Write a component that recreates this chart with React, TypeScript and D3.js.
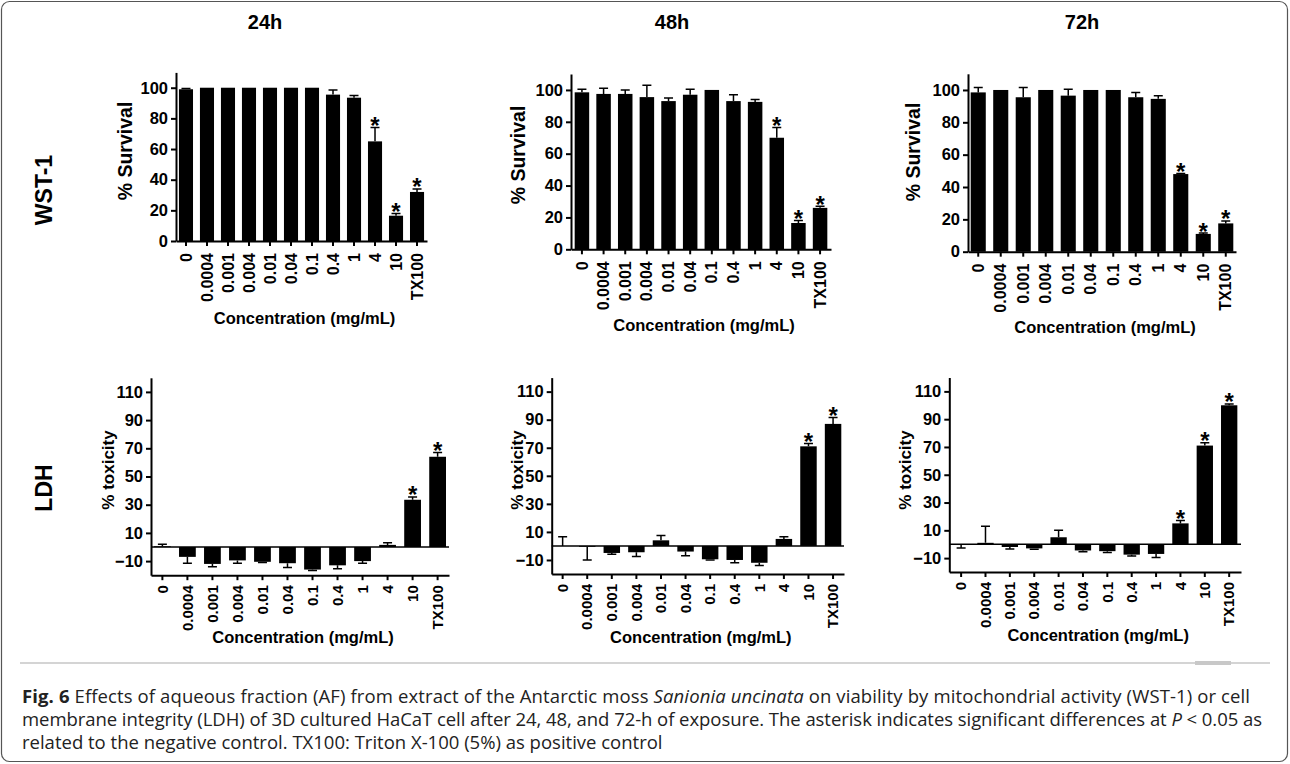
import React, { useEffect, useRef } from "react";
import * as d3 from "d3";

// WST-1 / LDH bar panels for 24h, 48h, 72h, drawn with D3 into one svg.
const concentrations = ["0", "0.0004", "0.001", "0.004", "0.01", "0.04", "0.1", "0.4", "1", "4", "10", "TX100"];
const timePoints = ["24h", "48h", "72h"];

const wst24 = [99, 100, 100, 100, 100, 100, 100, 95.5, 93.5, 65, 16.5, 32];
const wst24Err = [0.5, 0, 0, 0, 0, 0, 0, 3, 1.5, 9, 1.5, 2];
const wst48 = [98.5, 97.5, 97.5, 95.5, 93, 97, 100, 93, 92.5, 70, 16.5, 26];
const wst48Err = [2, 3.5, 2.5, 7.5, 2, 3.5, 0, 4, 1.5, 6.5, 1.5, 1];
const wst72 = [98.5, 100, 95.5, 100, 96.5, 100, 100, 95.5, 94.5, 48, 11, 17.5];
const wst72Err = [3, 0, 6, 0, 4, 0, 0, 3, 2, 0.4, 0.5, 1.5];

const ldh24 = [0.5, -7, -12, -9.5, -10.5, -11.5, -16, -13, -10, 1.5, 33.5, 64];
const ldh24Err = [1.5, 4.5, 2, 2, 0.5, 3, 0.7, 2.5, 1.5, 1.5, 2, 3];
const ldh48 = [0, -0.5, -5, -4.5, 4, -4, -9.5, -10, -12, 5, 71, 87];
const ldh48Err = [6.5, 9.5, 1, 3, 3.5, 3, 0.5, 2, 2, 1.5, 2, 4.5];
const ldh72 = [-0.3, 1, -2, -3, 5, -4.5, -5, -7.5, -7, 15, 71, 100];
const ldh72Err = [2.5, 12, 1.5, 0.7, 5, 1, 1, 1, 2.5, 2, 2, 1];

const wstStars = [["4", "10", "TX100"], ["4", "10", "TX100"], ["4", "10", "TX100"]];
const ldhStars = [["10", "TX100"], ["10", "TX100"], ["4", "10", "TX100"]];

const wstTicks = [0, 20, 40, 60, 80, 100];
const ldhTicks = [-10, 10, 30, 50, 70, 90, 110];

// layout per panel (pixels)
const wstLayout = [
  { x: [176, 427], y: [241, 72.4], outer: 0.14, tx: 125, ty: 151, xt: 324 },
  { x: [571, 831], y: [249.3, 74], outer: 0.17, tx: 518, ty: 155, xt: 331 },
  { x: [968, 1236], y: [251.7, 73.8], outer: 0.12, tx: 913, ty: 152, xt: 333 },
];
const ldhLayout = [
  { x: [151, 449], y: [575.2, 377.8], outer: 0.12, tx: 108, ty: 470, xt: 643 },
  { x: [551.7, 844], y: [574, 377.6], outer: 0.11, tx: 517, ty: 470, xt: 643 },
  { x: [949.3, 1241], y: [572, 377.5], outer: 0.15, tx: 905, ty: 470, xt: 641 },
];

const FONT = "'Liberation Sans', Arial, sans-serif";

function drawPanel(svg, opts) {
  const { values, errs, stars, layout, domain, ticks, yTitle, yTitleSize, tickLabelSize, labelGap, zeroLine } = opts;
  const g = svg.append("g");
  const x = d3
    .scaleBand()
    .domain(concentrations)
    .range(layout.x)
    .paddingInner(0.33)
    .paddingOuter(layout.outer);
  const y = d3.scaleLinear().domain(domain).range(layout.y);

  const rows = concentrations.map((c, i) => ({ c, v: values[i], e: errs[i] }));

  g.selectAll("rect.bar")
    .data(rows.filter((d) => d.v !== 0))
    .join("rect")
    .attr("x", (d) => x(d.c))
    .attr("width", x.bandwidth())
    .attr("y", (d) => y(Math.max(d.v, 0)))
    .attr("height", (d) => Math.max(0.8, Math.abs(y(d.v) - y(0))))
    .attr("fill", "#000");

  // error bars point away from zero, like the original
  const errEnd = (d) => d.v + (d.v < 0 ? -1 : 1) * d.e;
  g.selectAll("path.err")
    .data(rows.filter((d) => d.e > 0))
    .join("path")
    .attr("d", (d) => {
      const cx = x(d.c) + x.bandwidth() / 2;
      const y0 = y(d.v);
      const y1 = y(errEnd(d));
      return `M${cx},${y0}V${y1}M${cx - 4.5},${y1}H${cx + 4.5}`;
    })
    .attr("stroke", "#000")
    .attr("stroke-width", 1.5)
    .attr("fill", "none");

  g.selectAll("text.star")
    .data(rows.filter((d) => stars.includes(d.c)))
    .join("text")
    .attr("x", (d) => x(d.c) + x.bandwidth() / 2)
    .attr("y", (d) => y(errEnd(d)) + 6.5)
    .attr("text-anchor", "middle")
    .attr("font-family", FONT)
    .attr("font-weight", "bold")
    .attr("font-size", 24)
    .text("*");

  if (zeroLine) {
    g.append("line")
      .attr("x1", layout.x[0])
      .attr("x2", layout.x[1])
      .attr("y1", y(0))
      .attr("y2", y(0))
      .attr("stroke", "#000")
      .attr("stroke-width", 1.5);
  }

  const yAxis = g
    .append("g")
    .attr("transform", `translate(${layout.x[0]},0)`)
    .call(d3.axisLeft(y).tickValues(ticks).tickSize(5).tickSizeOuter(0).tickPadding(3));
  yAxis.attr("font-family", FONT).attr("font-size", 16.5).attr("font-weight", "bold").attr("color", "#000");
  yAxis.selectAll("path, line").attr("stroke-width", 2);

  const xAxis = g
    .append("g")
    .attr("transform", `translate(0,${layout.y[0]})`)
    .call(d3.axisBottom(x).tickSize(5).tickSizeOuter(0));
  xAxis.attr("font-family", FONT).attr("font-size", tickLabelSize).attr("font-weight", "bold").attr("color", "#000");
  xAxis.selectAll("path, line").attr("stroke-width", 2);
  xAxis
    .selectAll("text")
    .attr("transform", "rotate(-90)")
    .attr("x", -labelGap)
    .attr("y", 0)
    .attr("dy", "0.35em")
    .attr("text-anchor", "end");

  g.append("text")
    .attr("transform", `translate(${layout.tx},${layout.ty}) rotate(-90)`)
    .attr("text-anchor", "middle")
    .attr("dy", "0.35em")
    .attr("font-family", FONT)
    .attr("font-weight", "bold")
    .attr("font-size", yTitleSize)
    .text(yTitle);

  g.append("text")
    .attr("x", (layout.x[0] + layout.x[1]) / 2 + 3)
    .attr("y", layout.xt)
    .attr("text-anchor", "middle")
    .attr("font-family", FONT)
    .attr("font-weight", "bold")
    .attr("font-size", 16.5)
    .text("Concentration (mg/mL)");
}

export default function App() {
  const ref = useRef(null);

  useEffect(() => {
    const svg = d3.select(ref.current);
    svg.selectAll("*").remove();

    svg.append("rect").attr("width", 1290).attr("height", 764).attr("fill", "#fff");
    svg
      .append("rect")
      .attr("x", 1.5)
      .attr("y", 1.5)
      .attr("width", 1286)
      .attr("height", 760)
      .attr("rx", 8)
      .attr("fill", "none")
      .attr("stroke", "#555")
      .attr("stroke-width", 1.2);

    const wstVals = [wst24, wst48, wst72];
    const wstErrs = [wst24Err, wst48Err, wst72Err];
    const ldhVals = [ldh24, ldh48, ldh72];
    const ldhErrs = [ldh24Err, ldh48Err, ldh72Err];
    const titleX = [265, 672, 1082];

    timePoints.forEach((t, i) => {
      svg
        .append("text")
        .attr("x", titleX[i])
        .attr("y", 29)
        .attr("text-anchor", "middle")
        .attr("font-family", FONT)
        .attr("font-weight", "bold")
        .attr("font-size", 20)
        .text(t);

      drawPanel(svg, {
        values: wstVals[i],
        errs: wstErrs[i],
        stars: wstStars[i],
        layout: wstLayout[i],
        domain: [0, 110],
        ticks: wstTicks,
        yTitle: "% Survival",
        yTitleSize: 19.5,
        tickLabelSize: 16,
        labelGap: 12,
        zeroLine: false,
      });
      drawPanel(svg, {
        values: ldhVals[i],
        errs: ldhErrs[i],
        stars: ldhStars[i],
        layout: ldhLayout[i],
        domain: [-20, 120],
        ticks: ldhTicks,
        yTitle: "% toxicity",
        yTitleSize: 17,
        tickLabelSize: 15,
        labelGap: 10,
        zeroLine: true,
      });
    });

    [
      ["WST-1", 190],
      ["LDH", 488],
    ].forEach(([label, cy]) => {
      svg
        .append("text")
        .attr("transform", `translate(44,${cy}) rotate(-90)`)
        .attr("text-anchor", "middle")
        .attr("dy", "0.35em")
        .attr("font-family", FONT)
        .attr("font-weight", "bold")
        .attr("font-size", 23)
        .text(label);
    });

    // separator + caption
    svg.append("line").attr("x1", 20).attr("x2", 1270).attr("y1", 663).attr("y2", 663).attr("stroke", "#d4d4d4").attr("stroke-width", 2);
    svg.append("rect").attr("x", 1195).attr("y", 661).attr("width", 36).attr("height", 4).attr("fill", "#c8c8c8");

    const capText = (yy, len) =>
      svg
        .append("text")
        .attr("x", 22)
        .attr("y", yy)
        .attr("font-family", "'Open Sans', sans-serif")
        .attr("font-size", 18.5)
        .attr("fill", "#222")
        .call((s) => {
          if (len) s.attr("textLength", len).attr("lengthAdjust", "spacing");
        });

    const line1 = capText(703, 1228);
    line1.append("tspan").attr("font-weight", "bold").text("Fig. 6");
    line1.append("tspan").text(" Effects of aqueous fraction (AF) from extract of the Antarctic moss ");
    line1.append("tspan").attr("font-style", "italic").text("Sanionia uncinata");
    line1.append("tspan").text(" on viability by mitochondrial activity (WST-1) or cell");
    const line2 = capText(726, 1240);
    line2.append("tspan").text("membrane integrity (LDH) of 3D cultured HaCaT cell after 24, 48, and 72-h of exposure. The asterisk indicates significant differences at ");
    line2.append("tspan").attr("font-style", "italic").text("P");
    line2.append("tspan").text(" < 0.05 as");
    capText(749, 0).text("related to the negative control. TX100: Triton X-100 (5%) as positive control");
  }, []);

  return (
    <svg
      ref={ref}
      width={1290}
      height={764}
      style={{ position: "absolute", left: 0, top: 0, display: "block" }}
    />
  );
}
